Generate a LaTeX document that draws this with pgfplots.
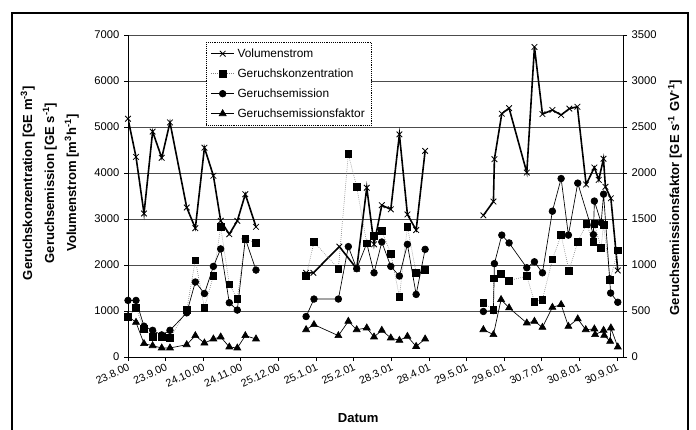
\documentclass[border=0pt]{standalone}
\usepackage{fontspec}
\setmainfont{Liberation Sans}
\usepackage{pgfplots}
\pgfplotsset{compat=1.18}

\pgfplotsset{
  base/.style={
    scale only axis, width=371.25pt, height=241.5pt,
    at={(96pt,54pt)}, anchor=south west,
    xmin=0, xmax=408,
    unbounded coords=jump,
    axis line style={-, line width=0.6pt},
    tick align=outside, major tick length=3pt,
    tick style={black, line width=0.5pt},
    /pgf/number format/1000 sep={},
    /pgf/number format/assume math mode=true,
    tick label style={font=\fontsize{8.4}{10}\selectfont},
  },
  vol/.style={black, solid, line width=1.2pt, mark=x, mark size=3pt, mark options={line width=0.6pt, solid}},
  konz/.style={gray, densely dotted, line width=0.5pt, mark=square*, mark size=2.5pt, mark options={black, solid}},
  emis/.style={black, solid, line width=0.5pt, mark=*, mark size=2.5pt},
  fakt/.style={black, solid, line width=0.5pt, mark=triangle*, mark size=3pt},
}

\begin{document}
\begin{tikzpicture}
\useasboundingbox (0,0) rectangle (522pt,321.75pt);
\draw[line width=0.9pt] (9pt,-5pt) rectangle (516pt,312pt);

\begin{axis}[
  base,
  ymin=0, ymax=7000, ytick={0,1000,...,7000},
  axis x line*=bottom, axis y line*=left,
  ymajorgrids, grid style={gray!60!black, line width=0.5pt},
  xtick={0,31,...,403},
  xticklabels={23.8.00,23.9.00,24.10.00,24.11.00,25.12.00,25.1.01,25.2.01,28.3.01,28.4.01,29.5.01,29.6.01,30.7.01,30.8.01,30.9.01},
  x tick label style={rotate=25, anchor=north east, inner sep=1pt, font=\fontsize{8}{10}\selectfont},
  xlabel={Datum},
  xlabel style={font=\bfseries\fontsize{9.8}{12}\selectfont, at={(axis description cs:0.465,-0.189)}, anchor=center},
  ylabel={Geruchskonzentration [GE m\textsuperscript{-3}]\\Geruchsemission [GE s\textsuperscript{-1}]\\Volumenstrom [m\textsuperscript{3}h\textsuperscript{-1}]},
  ylabel style={font=\bfseries\fontsize{9.8}{16.5}\selectfont, align=center, at={(axis description cs:-0.158,0.54)}, anchor=center},
]
% Volumenstrom
\addplot[vol] coordinates {
(0,5180)(6.6,4350)(13.2,3120)(20.3,4900)(27.8,4330)(34.6,5100)(48.4,3250)(55.5,2800)(63,4550)(70.4,3940)(76.4,2960)(83.5,2670)(90.1,2960)(96.7,3540)(105.5,2830)
(125,nan)
(146.8,1830)(152.8,1830)(174.2,2400)(188.5,1920)(196.8,3680)(202.8,2450)(209.2,3300)(216.6,3210)(223.7,4840)(230.3,3100)(237.5,2760)(244.9,4480)
(270,nan)
(292.9,3080)(301.2,3380)(302,4300)(308.1,5290)(314.1,5410)(328.7,4010)(335,6740)(341.6,5280)(349.8,5370)(357,5260)(363.8,5400)(370.4,5440)(377.6,3750)(384.4,4120)(388,3850)(391.9,4310)(393.5,3700)(398,3450)(403.7,1880)
};
% Geruchskonzentration
\addplot[konz] coordinates {
(0,870)(6.6,1070)(13.2,610)(20.3,440)(27.8,440)(34.6,410)(48.4,1030)(55.5,2100)(63,1070)(70.4,1770)(76.4,2830)(83.5,1580)(90.1,1260)(96.7,2570)(105.5,2480)
(125,nan)
(146.8,1760)(153.3,2500)(173.4,1920)(181.6,4410)(188.5,3700)(196.8,2470)(202.8,2640)(209.2,2740)(216.6,2250)(223.7,1310)(230.3,2830)(237.5,1830)(244.9,1890)
(270,nan)
(292.9,1180)(301.2,1030)(301.5,1710)(307.5,1810)(314.1,1660)(328.7,1760)(335,1200)(341.6,1250)(349.8,2120)(357,2650)(363.5,1880)(370.7,2500)(377.8,2890)(383.6,2500)(384.4,2900)(389.9,2370)(392,2880)(397.4,1680)(403.7,2320)
};
% Geruchsemission
\addplot[emis] coordinates {
(0,1230)(6.6,1230)(13.2,670)(20.3,580)(27.8,480)(34.6,580)(48.4,960)(55.5,1630)(63,1380)(70.4,1970)(76.4,2350)(83.5,1180)(90.1,1020)(96.7,2570)(105.5,1890)
(125,nan)
(146.8,880)(153.3,1260)(173.4,1260)(181.6,2400)(188.5,1920)(196.8,2470)(202.8,1830)(209.2,2500)(216.6,1970)(223.7,1760)(230.3,2450)(237.5,1360)(244.9,2340)
(270,nan)
(292.9,990)(301.2,1010)(302,2030)(308.1,2650)(314.1,2480)(328.7,1940)(335,2070)(341.6,1830)(349.8,3170)(357,3880)(363,2650)(370.7,3780)(383.6,2660)(384.4,3390)(390,2920)(392,3540)(397,1700)(397.8,1390)(403.7,1190)
};
\end{axis}

\begin{axis}[
  base,
  ymin=0, ymax=3500, ytick={0,500,...,3500},
  axis x line=none, axis y line*=right,
  ylabel={Geruchsemissionsfaktor [GE s\textsuperscript{-1} GV\textsuperscript{-1}]},
  ylabel style={font=\bfseries\fontsize{9.8}{12}\selectfont, at={(axis description cs:1.105,0.495)}, anchor=center},
  legend style={at={(0.158,0.978)}, anchor=north west, draw=black, densely dotted, fill=white,
    font=\fontsize{8.9}{10}\selectfont, row sep=2pt,
    nodes={text height=7pt, text depth=2pt, inner sep=2pt}},
  legend cell align=left,
]
\addlegendimage{vol}
\addlegendentry{Volumenstrom}
\addlegendimage{konz}
\addlegendentry{Geruchskonzentration}
\addlegendimage{emis}
\addlegendentry{Geruchsemission}
% Geruchsemissionsfaktor
\addplot[fakt] coordinates {
(0,442)(6.6,377)(13.2,145)(20.3,123)(27.8,98)(34.6,98)(48.4,134)(55.5,232)(63,152)(70.4,196)(76.4,218)(83.5,109)(90.1,98)(96.7,232)(105.5,196)
(125,nan)
(146.8,297)(153.3,352)(173.4,232)(181.6,388)(188.5,297)(196.8,316)(202.8,218)(209.2,290)(216.6,207)(223.7,181)(230.3,224)(237.5,115)(244.9,196)
(270,nan)
(292.9,297)(301.2,243)(307.5,624)(314.1,534)(328.7,370)(335,388)(341.6,322)(349.8,540)(357,570)(363,333)(370.7,414)(377.3,297)(384.4,305)(385,243)(392,290)(392.5,235)(397.4,170)(398,316)(403.7,109)
};
\addlegendentry{Geruchsemissionsfaktor}
\end{axis}
\end{tikzpicture}
\end{document}
